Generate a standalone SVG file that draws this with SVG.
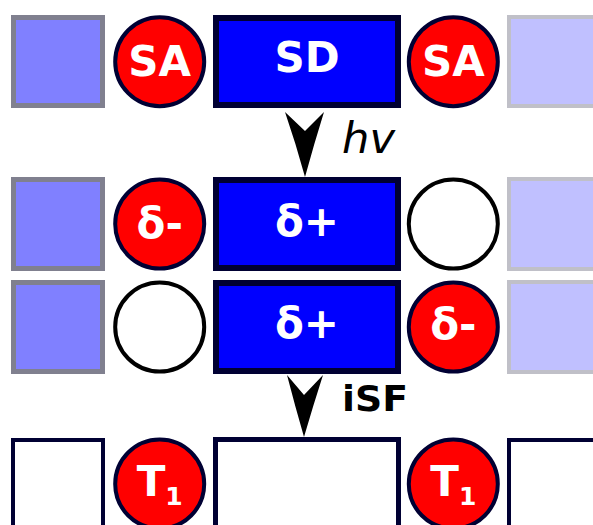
<svg xmlns="http://www.w3.org/2000/svg" width="593" height="525" viewBox="0 0 593 525">
<style>
.sqL{fill:#8080ff;stroke:#80808f;stroke-width:5}
.sqR{fill:#c0c0ff;stroke:#c0c0c8;stroke-width:4}
.sqW{fill:#ffffff;stroke:#000033;stroke-width:4}
.don{fill:#0000ff;stroke:#000033;stroke-width:6}
.donW{fill:#ffffff;stroke:#000033;stroke-width:5}
.acc{fill:#ff0000;stroke:#000033;stroke-width:4}
.emp{fill:#ffffff;stroke:#000000;stroke-width:4}
.lbl{font-family:"DejaVu Sans",Verdana,sans-serif;font-weight:bold;font-size:42px;fill:#ffffff;text-anchor:middle}
.sub{font-size:25px}
.arr{fill:#000000}
</style>
<rect width="593" height="525" fill="#ffffff"/>
<g id="row1">
<g id="r1-sqL"><rect class="sqL" x="13.5" y="17.5" width="89" height="88"/></g>
<g id="r1-SA-left"><circle class="acc" cx="159.7" cy="61.7" r="44.5"/><text class="lbl" x="159.7" y="76">SA</text></g>
<g id="r1-SD"><rect class="don" x="216" y="18" width="182" height="87"/><text class="lbl" x="307" y="72">SD</text></g>
<g id="r1-SA-right"><circle class="acc" cx="453.3" cy="61.7" r="44.5"/><text class="lbl" x="453.3" y="76">SA</text></g>
<g id="r1-sqR"><rect class="sqR" x="509" y="17" width="100" height="89"/></g>
</g>
<g id="row2">
<g id="r2-sqL"><rect class="sqL" x="13.5" y="179.5" width="89" height="89"/></g>
<g id="r2-acc-left"><circle class="acc" cx="159.7" cy="224" r="44.5"/><text class="lbl" x="159.7" y="238">δ-</text></g>
<g id="r2-donor"><rect class="don" x="216" y="180" width="182" height="88"/><text class="lbl" x="307" y="236">δ+</text></g>
<g id="r2-acc-right"><circle class="emp" cx="453.3" cy="224" r="44.5"/></g>
<g id="r2-sqR"><rect class="sqR" x="509" y="179" width="100" height="90"/></g>
</g>
<g id="row3">
<g id="r3-sqL"><rect class="sqL" x="13.5" y="282.5" width="89" height="89"/></g>
<g id="r3-acc-left"><circle class="emp" cx="159.7" cy="327" r="44.5"/></g>
<g id="r3-donor"><rect class="don" x="216" y="283" width="182" height="88"/><text class="lbl" x="307" y="338">δ+</text></g>
<g id="r3-acc-right"><circle class="acc" cx="453.3" cy="327" r="44.5"/><text class="lbl" x="453.3" y="339">δ-</text></g>
<g id="r3-sqR"><rect class="sqR" x="509" y="282" width="100" height="90"/></g>
</g>
<g id="row4">
<g id="r4-sqL"><rect class="sqW" x="13" y="440" width="90" height="100"/></g>
<g id="r4-T1-left"><circle class="acc" cx="159.7" cy="484" r="44.5"/><text class="lbl" x="159.7" y="496">T<tspan class="sub" dy="9">1</tspan></text></g>
<g id="r4-donor"><rect class="donW" x="215.5" y="439.5" width="183" height="100"/></g>
<g id="r4-T1-right"><circle class="acc" cx="453.3" cy="484" r="44.5"/><text class="lbl" x="453.3" y="496">T<tspan class="sub" dy="9">1</tspan></text></g>
<g id="r4-sqR"><rect class="sqW" x="509" y="440" width="100" height="100"/></g>
</g>
<g id="connectors">
<path class="arr" d="M285,112 L305,131 L324,112 Q314,144 305,177 Q296,144 285,112 Z"/>
<text x="342" y="153" font-family="DejaVu Sans, sans-serif" font-style="italic" font-size="43" fill="#000000" textLength="53" lengthAdjust="spacingAndGlyphs">hv</text>
<path class="arr" d="M287,375 L304,395 L323,375 Q313,406 304,437 Q295,406 287,375 Z"/>
<text x="342" y="411" font-family="DejaVu Sans, sans-serif" font-weight="bold" font-size="36" fill="#000000" textLength="66" lengthAdjust="spacingAndGlyphs">iSF</text>
</g>
</svg>
